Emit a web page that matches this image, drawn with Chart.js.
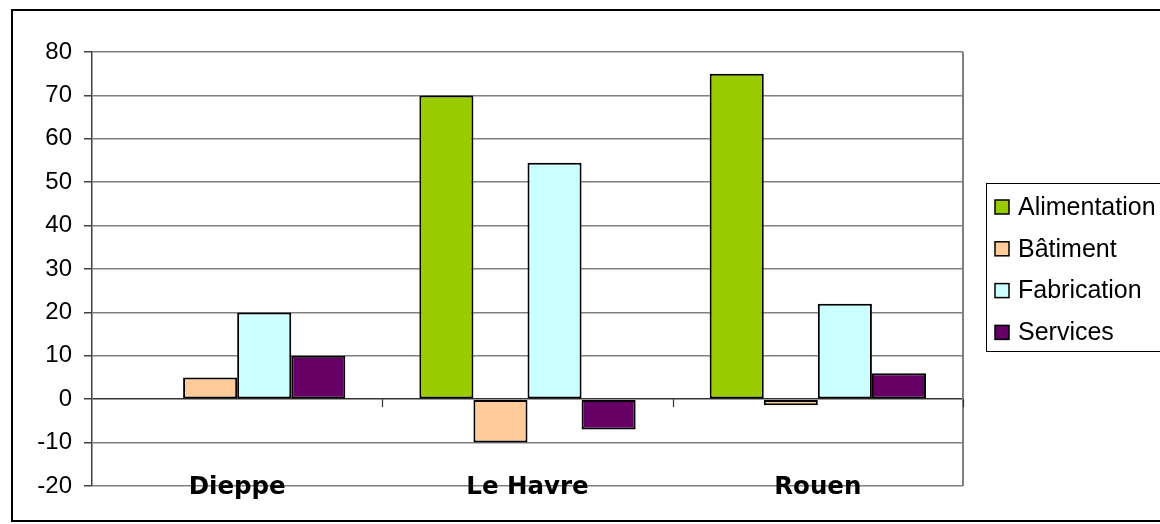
<!DOCTYPE html>
<html><head><meta charset="utf-8">
<script src="https://cdn.jsdelivr.net/npm/chart.js@4.4.0/dist/chart.umd.min.js"></script>
<style>html,body{margin:0;padding:0;background:#fff}#wrap{width:1160px;height:524px;position:relative}</style>
</head><body><div id="wrap"><canvas id="c" width="1160" height="524"></canvas></div>
<script>
const categories = ['Dieppe', 'Le Havre', 'Rouen'];
const seriesNames = ['Alimentation', 'Bâtiment', 'Fabrication', 'Services'];
const alimentation = [0, 70, 75];
const batiment = [5, -10, -1.4];
const fabrication = [20, 54.5, 22];
const services = [10, -7, 6];
const yTicks = [-20, -10, 0, 10, 20, 30, 40, 50, 60, 70, 80];
const colors = ['#99CC00', '#FFCC99', '#CCFFFF', '#660066'];

const allSeries = [alimentation, batiment, fabrication, services];

const decor = {
  id: 'decor',
  beforeDraw(chart) {
    const ctx = chart.ctx;
    ctx.save();
    ctx.fillStyle = '#fff';
    ctx.fillRect(0, 0, chart.width, chart.height);
    ctx.restore();
  },
  afterDraw(chart) {
    const ctx = chart.ctx, ca = chart.chartArea;
    const x = chart.scales.x, y = chart.scales.y;
    ctx.save();
    // right border of plot area
    ctx.strokeStyle = '#808080'; ctx.lineWidth = 2;
    ctx.beginPath(); ctx.moveTo(ca.right, ca.top); ctx.lineTo(ca.right, ca.bottom); ctx.stroke();
    // tick marks on zero line at category boundaries
    const y0 = y.getPixelForValue(0);
    ctx.strokeStyle = '#333'; ctx.lineWidth = 1.2;
    for (let i = 1; i <= categories.length; i++) {
      const bx = (x.getPixelForValue(i - 1) + (i < categories.length ? x.getPixelForValue(i) : 2 * x.getPixelForValue(i - 1) - x.getPixelForValue(i - 2))) / 2;
      ctx.beginPath(); ctx.moveTo(Math.round(bx) + 0.5, y0); ctx.lineTo(Math.round(bx) + 0.5, y0 + 8); ctx.stroke();
    }
    // category labels
    ctx.fillStyle = '#000';
    ctx.font = 'bold 24.5px "DejaVu Sans", Verdana, sans-serif';
    ctx.textAlign = 'center'; ctx.textBaseline = 'middle';
    categories.forEach((c, i) => ctx.fillText(c, x.getPixelForValue(i), ca.bottom + 2));
    // legend
    const lx = 986, ly = 183, lh = 168;
    ctx.strokeStyle = '#000'; ctx.lineWidth = 1;
    ctx.strokeRect(lx + 0.5, ly + 0.5, 400, lh);
    ctx.font = '25px "Liberation Sans", Arial, sans-serif';
    ctx.textAlign = 'left';
    seriesNames.forEach((n, i) => {
      const cy = 207 + i * 41.8;
      ctx.fillStyle = colors[i];
      ctx.fillRect(995, cy - 7, 14, 14);
      ctx.strokeStyle = '#000'; ctx.lineWidth = 1.5;
      ctx.strokeRect(995, cy - 7, 14, 14);
      ctx.fillStyle = '#000';
      ctx.fillText(n, 1018, cy + 1);
    });
    // outer border
    ctx.strokeStyle = '#000'; ctx.lineWidth = 2;
    ctx.strokeRect(12, 10, 1200, 511);
    ctx.restore();
  }
};

new Chart(document.getElementById('c'), {
  type: 'bar',
  data: {
    labels: categories,
    datasets: seriesNames.map((n, i) => ({
      label: n,
      data: allSeries[i],
      backgroundColor: colors[i],
      borderColor: '#000',
      borderWidth: (ctx) => (ctx.raw === 0 ? 0 : 2),
      borderSkipped: false,
      barPercentage: 1,
      categoryPercentage: 0.745
    }))
  },
  options: {
    responsive: false,
    animation: false,
    events: [],
    layout: { padding: { left: 0, right: 197, top: 52, bottom: 38 } },
    plugins: { legend: { display: false }, tooltip: { enabled: false } },
    scales: {
      x: { display: false },
      y: {
        min: -20, max: 80,
        afterBuildTicks: (s) => { s.ticks = yTicks.map(v => ({ value: v })); },
        afterFit: (s) => { s.width = 92; },
        grid: {
          color: (c) => (c.tick && c.tick.value === 0 ? '#333' : '#808080'),
          lineWidth: 1.5,
          tickLength: 8,
          tickColor: '#404040'
        },
        border: { display: true, color: '#404040', width: 1.5 },
        ticks: { color: '#000', padding: 12, font: { family: '"Liberation Sans", Arial, sans-serif', size: 24 } }
      }
    }
  },
  plugins: [decor]
});
</script>
</body></html>
